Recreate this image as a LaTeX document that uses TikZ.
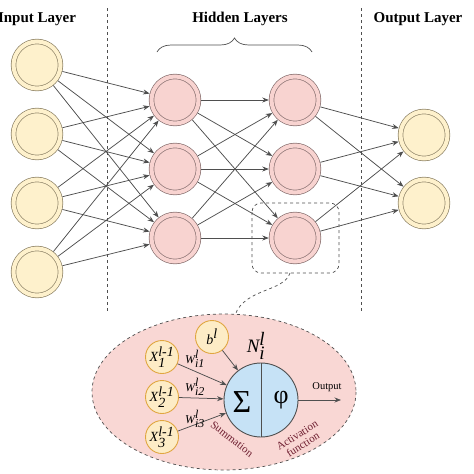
\documentclass[tikz,border=0pt]{standalone}
\usepackage{fontspec}
\setmainfont{Liberation Serif}
\usetikzlibrary{arrows,arrows.meta,decorations.pathreplacing}
\definecolor{edgegray}{HTML}{4F4F4F}
\definecolor{inputfill}{HTML}{FEF1CC}
\definecolor{inputring}{HTML}{8F8468}
\definecolor{hiddenfill}{HTML}{F8D3D0}
\definecolor{hiddenring}{HTML}{8A7272}
\definecolor{zoomfill}{HTML}{F9D7D4}
\definecolor{smallfill}{HTML}{FDECC6}
\definecolor{smallring}{HTML}{E0A640}
\definecolor{cellfill}{HTML}{C6E2F6}
\definecolor{labelred}{HTML}{6E1E30}

\begin{document}
\begin{tikzpicture}[x=1pt, y=-1pt]
%% one unit is one pixel of the 474x474 reference, y grows downwards
\tikzstyle{arc}=[->,>={Stealth[length=6.5pt,width=5pt]},draw=edgegray,line width=0.75pt]
\tikzstyle{neuron}=[circle,minimum size=47pt,inner sep=0pt,line width=0.7pt,double distance=4pt,outer sep=2.7pt]
\tikzstyle{inputneuron}=[neuron,draw=inputring,double=inputfill,fill=inputfill]
\tikzstyle{hiddenneuron}=[neuron,draw=hiddenring,double=hiddenfill,fill=hiddenfill]
\tikzstyle{header}=[font=\bfseries\fontsize{15}{17}\selectfont]
\tikzstyle{separator}=[dashed,draw=edgegray,line width=0.7pt]
\tikzstyle{smallneuron}=[circle,minimum size=33pt,inner sep=0pt,draw=smallring,fill=smallfill,line width=0.9pt,font=\fontsize{14}{16}\selectfont]
\tikzstyle{weight}=[font=\fontsize{12}{14}\selectfont,inner sep=0pt]
\tikzstyle{partlabel}=[font=\fontsize{11}{11}\selectfont,text=labelred,inner sep=0pt,align=center]
\useasboundingbox (0,0) rectangle (474,474);
%% headers
\node[header] (inlabel) at (37,19) {Input Layer};
\node[header] (hidlabel) at (240,19) {Hidden Layers};
\node[header] (outlabel) at (418,19) {Output Layer};
%% separators between the layers
\coordinate (sepAtop) at (107,8);
\coordinate (sepAbot) at (107,313);
\coordinate (sepBtop) at (361,8);
\coordinate (sepBbot) at (361,313);
\draw[separator] (sepAtop) -- (sepAbot);
\draw[separator] (sepBtop) -- (sepBbot);
%% brace over the hidden layers
\coordinate (braceL) at (157,52);
\coordinate (braceR) at (312,52);
\draw[draw=edgegray,line width=0.7pt,decorate,decoration={brace,amplitude=14pt}] (braceL) -- (braceR);
%% zoomed neuron background
\draw[dashed,draw=edgegray,line width=0.7pt,fill=zoomfill] (224,392) ellipse [x radius=132, y radius=78];
\draw[dashed,draw=edgegray,line width=0.7pt,rounded corners=9pt] (252,203) rectangle (339,273);
\draw[dashed,draw=edgegray,line width=0.7pt] (290,273) .. controls (284,292) and (245,288) .. (235,315);
%% input layer
\node[inputneuron] at (37,65) (in1) {};
\node[inputneuron] at (37,134) (in2) {};
\node[inputneuron] at (37,203) (in3) {};
\node[inputneuron] at (37,272) (in4) {};
%% first hidden layer
\node[hiddenneuron] at (175,100) (ha1) {};
\node[hiddenneuron] at (175,169) (ha2) {};
\node[hiddenneuron] at (175,238) (ha3) {};
%% second hidden layer
\node[hiddenneuron] at (295,100) (hb1) {};
\node[hiddenneuron] at (295,169) (hb2) {};
\node[hiddenneuron] at (295,238) (hb3) {};
%% output layer
\node[inputneuron] at (424,135) (out1) {};
\node[inputneuron] at (424,203) (out2) {};
%% input -> first hidden
\draw[arc] (in1) -- (ha1);
\draw[arc] (in1) -- (ha2);
\draw[arc] (in1) -- (ha3);
\draw[arc] (in2) -- (ha1);
\draw[arc] (in2) -- (ha2);
\draw[arc] (in2) -- (ha3);
\draw[arc] (in3) -- (ha1);
\draw[arc] (in3) -- (ha2);
\draw[arc] (in3) -- (ha3);
\draw[arc] (in4) -- (ha1);
\draw[arc] (in4) -- (ha2);
\draw[arc] (in4) -- (ha3);
%% first hidden -> second hidden
\draw[arc] (ha1) -- (hb1);
\draw[arc] (ha1) -- (hb2);
\draw[arc] (ha1) -- (hb3);
\draw[arc] (ha2) -- (hb1);
\draw[arc] (ha2) -- (hb2);
\draw[arc] (ha2) -- (hb3);
\draw[arc] (ha3) -- (hb1);
\draw[arc] (ha3) -- (hb2);
\draw[arc] (ha3) -- (hb3);
%% second hidden -> output
\draw[arc] (hb1) -- (out1);
\draw[arc] (hb1) -- (out2);
\draw[arc] (hb2) -- (out1);
\draw[arc] (hb2) -- (out2);
\draw[arc] (hb3) -- (out1);
\draw[arc] (hb3) -- (out2);
%% detail of one neuron
\node[circle,minimum size=74pt,inner sep=0pt,draw=edgegray,fill=cellfill,line width=0.9pt] at (261,400) (cell) {};
\draw[draw=edgegray,line width=0.9pt] (cell.north) -- (cell.south);
\node[font=\fontsize{32}{34}\selectfont] at (242,402) (sumsign) {Σ};
\node[font=\fontsize{26}{28}\selectfont] at (281,400) (actsign) {φ};
\node[font=\fontsize{19}{21}\selectfont] at (256,346) (celllabel) {$\textit{N}_{\textit{i}}^{\textit{l}}$};
\node[smallneuron] at (212,337) (bias) {$\textit{b}^{\textit{l}}$};
\node[smallneuron] at (162,357) (x1) {$\textit{X}_{\textit{1}}^{\textit{l-1}}$};
\node[smallneuron] at (162,397) (x2) {$\textit{X}_{\textit{2}}^{\textit{l-1}}$};
\node[smallneuron] at (162,437) (x3) {$\textit{X}_{\textit{3}}^{\textit{l-1}}$};
\draw[arc] (bias) -- (cell);
\draw[arc] (x1) -- (cell);
\draw[arc] (x2) -- (cell);
\draw[arc] (x3) -- (cell);
%% weight labels
\node[weight] at (195,359) (w1) {$\textit{W}_{\textit{i1}}^{\textit{l}}$};
\node[weight] at (195,387) (w2) {$\textit{W}_{\textit{i2}}^{\textit{l}}$};
\node[weight] at (195,419) (w3) {$\textit{W}_{\textit{i3}}^{\textit{l}}$};
%% output of the neuron
\coordinate (cellout) at (341,400);
\draw[arc] (cell) -- (cellout);
\node[font=\fontsize{10.5}{12}\selectfont] at (327,387) (outtext) {Output};
\node[partlabel,rotate=-38] at (232,439) (sumtext) {Summation};
\node[partlabel,rotate=32] at (300,440) (acttext) {Activation\\function};
\end{tikzpicture}
\end{document}
